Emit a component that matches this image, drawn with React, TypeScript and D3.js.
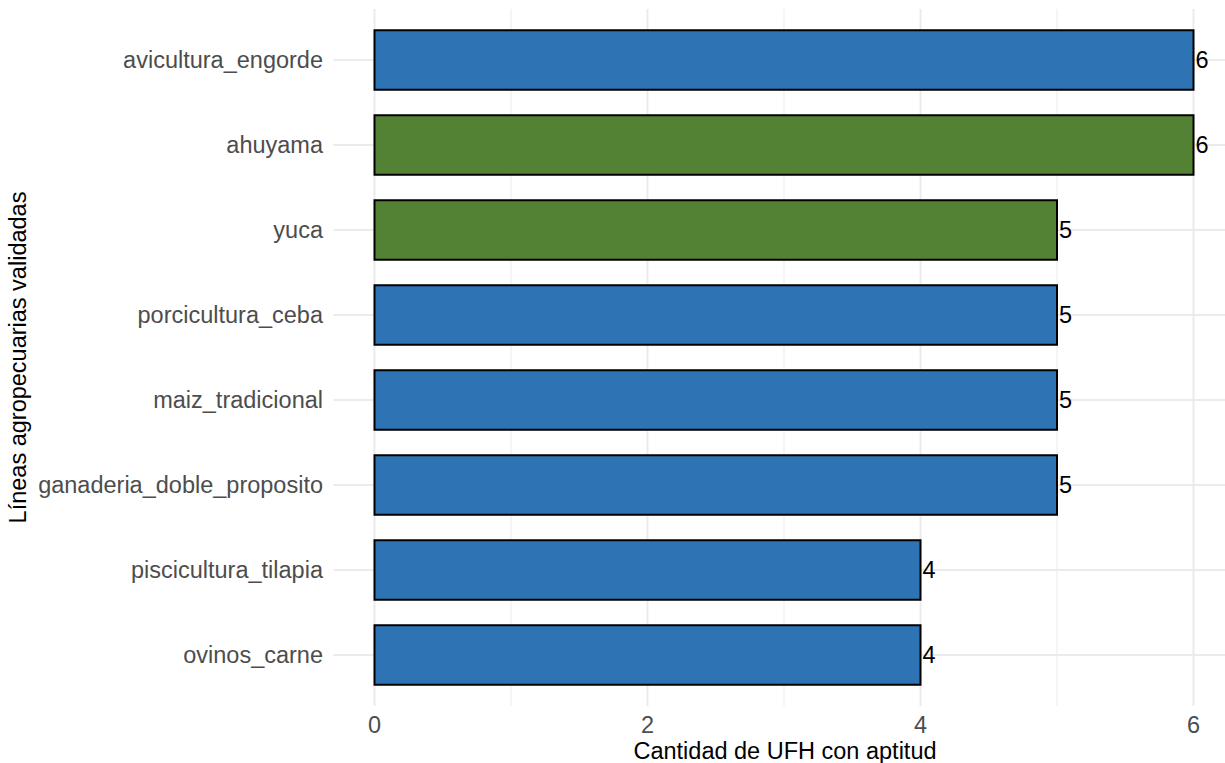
import React from "react";
import * as d3 from "d3";

const categories = [
  "avicultura_engorde",
  "ahuyama",
  "yuca",
  "porcicultura_ceba",
  "maiz_tradicional",
  "ganaderia_doble_proposito",
  "piscicultura_tilapia",
  "ovinos_carne",
];
const values = [6, 6, 5, 5, 5, 5, 4, 4];
const groups = ["pecuaria", "agricola", "agricola", "pecuaria", "pecuaria", "pecuaria", "pecuaria", "pecuaria"];
const xTicks = [0, 2, 4, 6];
const xMinor = [1, 3, 5];

const W = 1225;
const H = 763;
const panel = { left: 333.5, right: 1225, top: 9, bottom: 706 };
const font = "'Liberation Sans', Arial, sans-serif";
const colors: Record<string, string> = { pecuaria: "#2E74B5", agricola: "#548235" };

export default function App() {
  const x = d3.scaleLinear().domain([0, 6]).range([374.5, 1193.5]);
  const y = d3.scalePoint<string>().domain(categories).range([60, 655]);
  const bw = y.step() * 0.7;
  return (
    <svg width={W} height={H} style={{ position: "absolute", left: 0, top: 0, background: "#fff" }}>
      {xMinor.map((t) => (
        <line key={"m" + t} x1={x(t)} x2={x(t)} y1={panel.top} y2={panel.bottom} stroke="#ebebeb" strokeWidth={1} />
      ))}
      {xTicks.map((t) => (
        <line key={"g" + t} x1={x(t)} x2={x(t)} y1={panel.top} y2={panel.bottom} stroke="#ebebeb" strokeWidth={2} />
      ))}
      {categories.map((c) => (
        <line
          key={"h" + c}
          x1={panel.left}
          x2={panel.right}
          y1={y(c) as number}
          y2={y(c) as number}
          stroke="#ebebeb"
          strokeWidth={2}
        />
      ))}
      {categories.map((c, i) => (
        <rect
          key={"b" + c}
          x={x(0)}
          y={(y(c) as number) - bw / 2}
          width={x(values[i]) - x(0)}
          height={bw}
          fill={colors[groups[i]]}
          stroke="#000"
          strokeWidth={2}
        />
      ))}
      {categories.map((c, i) => (
        <text
          key={"v" + c}
          x={x(values[i]) + 2}
          y={y(c) as number}
          dy="0.36em"
          fontFamily={font}
          fontSize={23.5}
          fill="#000"
        >
          {values[i]}
        </text>
      ))}
      {categories.map((c) => (
        <text
          key={"l" + c}
          x={323}
          y={y(c) as number}
          dy="0.36em"
          textAnchor="end"
          fontFamily={font}
          fontSize={23.5}
          fill="#4d4d4d"
        >
          {c}
        </text>
      ))}
      {xTicks.map((t) => (
        <text
          key={"t" + t}
          x={x(t)}
          y={733}
          textAnchor="middle"
          fontFamily={font}
          fontSize={23.5}
          fill="#4d4d4d"
        >
          {t}
        </text>
      ))}
      <text x={785} y={759} textAnchor="middle" fontFamily={font} fontSize={23.5} fill="#000">
        Cantidad de UFH con aptitud
      </text>
      <text
        transform={`translate(26, ${(panel.top + panel.bottom) / 2}) rotate(-90)`}
        textAnchor="middle"
        fontFamily={font}
        fontSize={23.5}
        fill="#000"
      >
        Líneas agropecuarias validadas
      </text>
    </svg>
  );
}
